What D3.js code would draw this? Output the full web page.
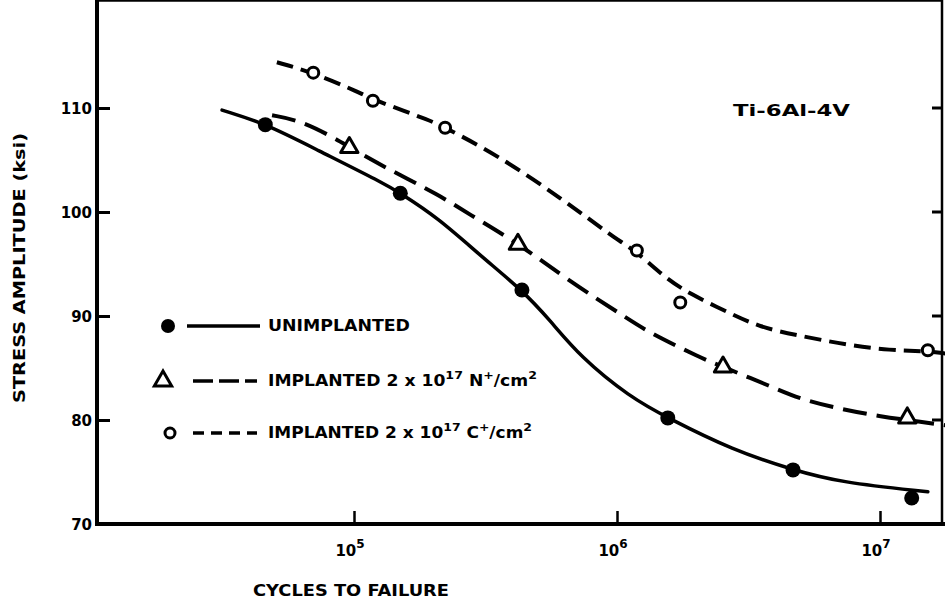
<!DOCTYPE html>
<html>
<head>
<meta charset="utf-8">
<script src="https://cdn.jsdelivr.net/npm/d3@7"></script>
<style>
body { margin: 0; background: #fff; }
svg { display: block; }
text { font-family: "DejaVu Sans", sans-serif; font-weight: bold; fill: #000; }
</style>
</head>
<body>
<svg id="chart" width="945" height="602"></svg>
<script>
// data points (cycles to failure, stress amplitude ksi)
var unimplantedCycles = [4.6e4, 1.5e5, 4.35e5, 1.56e6, 4.67e6, 1.32e7],
	unimplantedStress = [108.4, 101.8, 92.5, 80.2, 75.2, 72.5];
var nitrogenCycles = [9.6e4, 4.2e5, 2.53e6, 1.27e7],
	nitrogenStress = [106.2, 96.9, 85.1, 80.2];
var carbonCycles = [7.0e4, 1.18e5, 2.22e5, 1.19e6, 1.74e6, 1.52e7],
	carbonStress = [113.4, 110.7, 108.1, 96.3, 91.3, 86.7];

// hand drawn fit curves
var unimplantedFitCycles = [3.15e4, 4.6e4, 7.2e4, 1.29e5, 1.5e5, 2.07e5, 3.09e5, 4.35e5, 5.56e5, 7.23e5, 1.12e6, 1.56e6, 2.76e6, 4.67e6, 7.05e6, 1.52e7],
	unimplantedFitStress = [109.8, 108.5, 106.0, 102.8, 101.8, 99.5, 95.6, 92.5, 89.6, 86.1, 82.2, 80.2, 77.1, 75.2, 74.0, 73.1];
var nitrogenFitCycles = [4.88e4, 6.24e4, 8.32e4, 9.65e4, 1.33e5, 2.12e5, 2.69e5, 4.21e5, 6.46e5, 1.12e6, 1.33e6, 2.07e6, 2.53e6, 3.88e6, 4.96e6, 7.23e6, 1.03e7, 1.27e7, 1.77e7],
	nitrogenFitStress = [109.3, 108.8, 107.2, 106.2, 104.2, 101.6, 99.9, 97.0, 93.5, 89.6, 88.4, 86.0, 85.1, 83.2, 82.0, 81.0, 80.3, 80.0, 79.5];
var carbonFitCycles = [5.09e4, 6.98e4, 1.05e5, 1.18e5, 2.0e5, 2.22e5, 3.5e5, 6.23e5, 9.66e5, 1.2e6, 1.52e6, 1.9e6, 2.62e6, 3.5e6, 4.96e6, 7.55e6, 1.09e7, 1.52e7, 1.77e7],
	carbonFitStress = [114.4, 113.4, 111.5, 110.8, 108.7, 108.1, 105.5, 101.2, 97.6, 96.1, 93.7, 92.1, 90.4, 88.9, 88.1, 87.2, 86.7, 86.6, 86.4];

var yTicks = [70, 80, 90, 100, 110],
	xTicks = [1e5, 1e6, 1e7],
	xTickExp = ['5', '6', '7'];

var svg = d3.select('#chart'),
	left = 97, right = 942, top = 10, bottom = 524;

var x = d3.scaleLog().domain([1e5, 1e7]).range([354, 880]),
	y = d3.scaleLinear().domain([70, 110]).range([bottom, 108]);

function zipPts(cs, ss) {
	return cs.map(function(c, i) { return {c: c, s: ss[i]}; });
}

// frame
svg.append('line').attr('x1', left).attr('x2', left).attr('y1', top - 1).attr('y2', bottom + 2)
	.attr('stroke', '#000').attr('stroke-width', 4);
svg.append('line').attr('x1', left - 2).attr('x2', 945).attr('y1', bottom).attr('y2', bottom)
	.attr('stroke', '#000').attr('stroke-width', 4);
svg.append('line').attr('x1', left - 2).attr('x2', right + 1).attr('y1', top).attr('y2', top)
	.attr('stroke', '#000').attr('stroke-width', 3.5);
svg.append('line').attr('x1', right).attr('x2', right).attr('y1', top).attr('y2', bottom)
	.attr('stroke', '#000').attr('stroke-width', 2.5);

// left axis, ticks point inward
var yAxis = svg.append('g')
	.attr('transform', 'translate(' + left + ',0)')
	.call(d3.axisLeft(y).tickValues(yTicks).tickSizeInner(-13).tickSizeOuter(0).tickPadding(5));
yAxis.select('.domain').remove();
yAxis.selectAll('.tick line').attr('stroke', '#000').attr('stroke-width', 3);
yAxis.selectAll('.tick text').style('font-size', '15px').attr('dy', '0.36em');

// right side ticks
svg.append('g').selectAll('line')
	.data(yTicks.slice(1)).enter().append('line')
	.attr('x1', right - 10).attr('x2', right)
	.attr('y1', function(d) { return y(d); }).attr('y2', function(d) { return y(d); })
	.attr('stroke', '#000').attr('stroke-width', 3);

// bottom axis
var xAxis = svg.append('g')
	.attr('transform', 'translate(0,' + bottom + ')')
	.call(d3.axisBottom(x).tickValues(xTicks).tickSizeInner(-13).tickSizeOuter(0).tickFormat(''));
xAxis.select('.domain').remove();
xAxis.selectAll('.tick line').attr('stroke', '#000').attr('stroke-width', 2.5);

// top ticks
svg.append('g').selectAll('line')
	.data(xTicks).enter().append('line')
	.attr('x1', function(d) { return x(d); }).attr('x2', function(d) { return x(d); })
	.attr('y1', top).attr('y2', top + 10)
	.attr('stroke', '#000').attr('stroke-width', 2.5);

var xl = svg.append('g').selectAll('text')
	.data(xTicks).enter().append('text')
	.attr('x', function(d) { return x(d) - 4; })
	.attr('y', 556)
	.attr('text-anchor', 'middle')
	.style('font-size', '15px');
xl.append('tspan').text('10');
xl.append('tspan').attr('dy', -8).style('font-size', '12px').text(function(d, i) { return xTickExp[i]; });

// axis titles
svg.append('text')
	.attr('x', 351).attr('y', 596)
	.attr('text-anchor', 'middle')
	.attr('textLength', 196).attr('lengthAdjust', 'spacingAndGlyphs')
	.style('font-size', '15px')
	.text('CYCLES TO FAILURE');

svg.append('text')
	.attr('transform', 'translate(25,268) rotate(-90)')
	.attr('text-anchor', 'middle')
	.attr('textLength', 270).attr('lengthAdjust', 'spacingAndGlyphs')
	.style('font-size', '15px')
	.text('STRESS AMPLITUDE (ksi)');

svg.append('text')
	.attr('x', 733).attr('y', 116)
	.attr('textLength', 117).attr('lengthAdjust', 'spacingAndGlyphs')
	.style('font-size', '16px')
	.text('Ti-6Al-4V');

// curves
var line = d3.line()
	.curve(d3.curveBasis)
	.x(function(d) { return x(d.c); })
	.y(function(d) { return y(d.s); });

svg.append('path')
	.datum(zipPts(unimplantedFitCycles, unimplantedFitStress))
	.attr('d', line).attr('fill', 'none').attr('stroke', '#000')
	.attr('stroke-width', 3.5).attr('stroke-linecap', 'round');
svg.append('path')
	.datum(zipPts(nitrogenFitCycles, nitrogenFitStress))
	.attr('d', line).attr('fill', 'none').attr('stroke', '#000')
	.attr('stroke-width', 4).attr('stroke-dasharray', '24,10');
svg.append('path')
	.datum(zipPts(carbonFitCycles, carbonFitStress))
	.attr('d', line).attr('fill', 'none').attr('stroke', '#000')
	.attr('stroke-width', 4).attr('stroke-dasharray', '17,8');

// markers
var tri = d3.symbol().type(d3.symbolTriangle).size(130);

svg.append('g').selectAll('circle')
	.data(zipPts(unimplantedCycles, unimplantedStress)).enter().append('circle')
	.attr('cx', function(d) { return x(d.c); }).attr('cy', function(d) { return y(d.s); })
	.attr('r', 7.5).attr('fill', '#000');

svg.append('g').selectAll('path')
	.data(zipPts(nitrogenCycles, nitrogenStress)).enter().append('path')
	.attr('d', tri)
	.attr('transform', function(d) { return 'translate(' + x(d.c) + ',' + y(d.s) + ')'; })
	.attr('fill', '#fff').attr('stroke', '#000').attr('stroke-width', 3).attr('stroke-linejoin', 'round');

svg.append('g').selectAll('circle')
	.data(zipPts(carbonCycles, carbonStress)).enter().append('circle')
	.attr('cx', function(d) { return x(d.c); }).attr('cy', function(d) { return y(d.s); })
	.attr('r', 5.5).attr('fill', '#fff').attr('stroke', '#000').attr('stroke-width', 3);

// legend
var lg = svg.append('g');
lg.append('circle').attr('cx', 168).attr('cy', 326).attr('r', 7).attr('fill', '#000');
lg.append('line').attr('x1', 187).attr('x2', 260).attr('y1', 326).attr('y2', 326)
	.attr('stroke', '#000').attr('stroke-width', 3.5);
lg.append('path').attr('d', tri).attr('transform', 'translate(163,381)')
	.attr('fill', '#fff').attr('stroke', '#000').attr('stroke-width', 3);
lg.append('line').attr('x1', 193).attr('x2', 257).attr('y1', 381).attr('y2', 381)
	.attr('stroke', '#000').attr('stroke-width', 3.5).attr('stroke-dasharray', '20,6');
lg.append('circle').attr('cx', 170).attr('cy', 433).attr('r', 5).attr('fill', '#fff')
	.attr('stroke', '#000').attr('stroke-width', 3);
lg.append('line').attr('x1', 193).attr('x2', 257).attr('y1', 433).attr('y2', 433)
	.attr('stroke', '#000').attr('stroke-width', 3.5).attr('stroke-dasharray', '11,7');

lg.append('text').attr('x', 268).attr('y', 331)
	.attr('textLength', 142).attr('lengthAdjust', 'spacingAndGlyphs')
	.style('font-size', '15px').text('UNIMPLANTED');

function legendLabel(yPos, ion, len) {
	var t = lg.append('text').attr('x', 268).attr('y', yPos)
		.attr('textLength', len).attr('lengthAdjust', 'spacingAndGlyphs')
		.style('font-size', '15px');
	t.append('tspan').text('IMPLANTED 2 x 10');
	t.append('tspan').attr('dy', -7).style('font-size', '11px').text('17');
	t.append('tspan').attr('dy', 7).text(' ' + ion);
	t.append('tspan').attr('dy', -7).style('font-size', '11px').text('+');
	t.append('tspan').attr('dy', 7).text('/cm');
	t.append('tspan').attr('dy', -7).style('font-size', '11px').text('2');
}
legendLabel(386, 'N', 269);
legendLabel(438, 'C', 264);
</script>
</body>
</html>
